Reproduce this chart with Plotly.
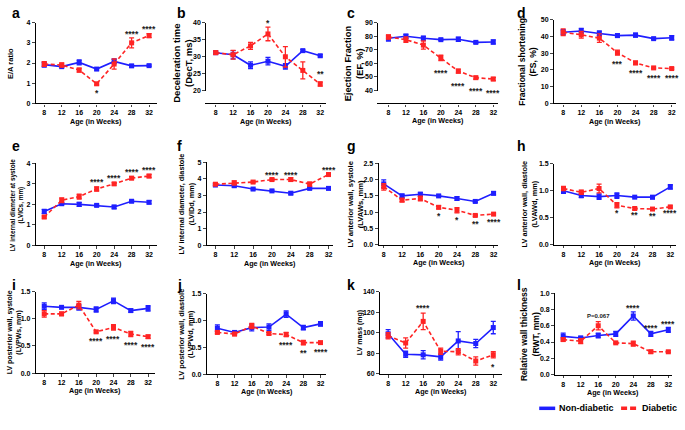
import plotly.graph_objects as go

W, H = 685, 430

# ---------------- data ----------------
weeks = [8, 12, 16, 20, 24, 28, 32]
week_labels = ["8", "12", "16", "20", "24", "28", "32"]

# a  E/A ratio
ea_nd = [1.92, 1.82, 2.03, 1.70, 2.08, 1.86, 1.87]
ea_nd_sem = [0.12, 0.05, 0.12, 0.05, 0.12, 0.06, 0.04]
ea_d = [1.95, 1.90, 1.65, 0.97, 1.95, 3.00, 3.36]
ea_d_sem = [0.12, 0.10, 0.10, 0.06, 0.25, 0.25, 0.10]
ea_sig = ["", "", "", "*", "", "****", "****"]
ea_sig_at = ["", "", "", "dn", "", "up", "up"]

# b  Deceleration time
dt_nd = [31.2, 30.6, 27.5, 28.7, 27.2, 31.8, 30.3]
dt_nd_sem = [0.4, 1.2, 1.0, 1.1, 0.8, 0.3, 0.3]
dt_d = [31.2, 30.6, 33.2, 36.7, 30.0, 26.0, 22.0]
dt_d_sem = [0.5, 1.3, 1.0, 2.0, 3.0, 2.5, 0.6]
dt_sig = ["", "", "", "*", "", "", "**"]
dt_sig_at = ["", "", "", "up", "", "", "dup"]

# c  Ejection fraction
ef_nd = [78.5, 80.0, 78.5, 77.5, 77.8, 75.5, 75.8]
ef_nd_sem = [2.0, 1.5, 1.5, 0.5, 1.5, 0.7, 1.5]
ef_d = [79.5, 77.5, 73.5, 64.0, 54.3, 49.5, 48.5]
ef_d_sem = [1.5, 2.0, 3.0, 2.0, 1.5, 1.0, 1.2]
ef_sig = ["", "", "", "****", "****", "****", "****"]
ef_sig_at = ["", "", "", "dn", "dn", "dn", "dn"]

# d  Fractional shortening
fs_nd = [42.5, 43.3, 41.8, 40.5, 40.8, 38.7, 39.2]
fs_nd_sem = [1.5, 1.5, 1.5, 1.0, 1.2, 0.5, 1.3]
fs_d = [42.5, 41.0, 39.0, 30.3, 24.2, 21.2, 20.8]
fs_d_sem = [2.0, 2.0, 2.5, 1.5, 1.0, 0.5, 0.5]
fs_sig = ["", "", "", "***", "****", "****", "****"]
fs_sig_at = ["", "", "", "dn", "dn", "dn", "dn"]

# e  LVIDs
lvids_nd = [1.65, 2.03, 2.00, 1.95, 1.87, 2.15, 2.10]
lvids_nd_sem = [0.10, 0.05, 0.10, 0.05, 0.08, 0.05, 0.08]
lvids_d = [1.38, 2.20, 2.38, 2.75, 3.00, 3.28, 3.38]
lvids_d_sem = [0.05, 0.12, 0.12, 0.10, 0.06, 0.07, 0.08]
lvids_sig = ["", "", "", "****", "****", "****", "****"]
lvids_sig_at = ["", "", "", "up", "up", "up", "up"]

# f  LVIDd
lvidd_nd = [3.62, 3.58, 3.38, 3.27, 3.13, 3.42, 3.42]
lvidd_nd_sem = [0.05, 0.08, 0.05, 0.05, 0.08, 0.06, 0.08]
lvidd_d = [3.67, 3.75, 3.80, 3.95, 3.95, 3.68, 4.25]
lvidd_d_sem = [0.07, 0.12, 0.05, 0.07, 0.10, 0.12, 0.10]
lvidd_sig = ["", "", "", "****", "****", "", "****"]
lvidd_sig_at = ["", "", "", "up", "up", "", "up"]

# g  LVAWs
lvaws_nd = [1.87, 1.50, 1.55, 1.50, 1.42, 1.33, 1.58]
lvaws_nd_sem = [0.12, 0.05, 0.06, 0.03, 0.05, 0.03, 0.05]
lvaws_d = [1.78, 1.37, 1.42, 1.15, 1.06, 0.90, 0.94]
lvaws_d_sem = [0.10, 0.05, 0.07, 0.05, 0.08, 0.03, 0.03]
lvaws_sig = ["", "", "", "*", "*", "**", "****"]
lvaws_sig_at = ["", "", "", "dn", "dn", "dn", "dn"]

# h  LVAWd
lvawd_nd = [1.00, 0.91, 0.89, 0.91, 0.88, 0.88, 1.07]
lvawd_nd_sem = [0.05, 0.04, 0.05, 0.05, 0.01, 0.03, 0.04]
lvawd_d = [1.04, 0.97, 1.04, 0.73, 0.67, 0.66, 0.70]
lvawd_d_sem = [0.04, 0.04, 0.08, 0.05, 0.02, 0.02, 0.02]
lvawd_sig = ["", "", "", "*", "**", "**", "****"]
lvawd_sig_at = ["", "", "", "dn", "dn", "dn", "dn"]

# i  LVPWs
lvpws_nd = [1.23, 1.21, 1.21, 1.17, 1.33, 1.15, 1.19]
lvpws_nd_sem = [0.06, 0.01, 0.05, 0.05, 0.05, 0.03, 0.05]
lvpws_d = [1.09, 1.09, 1.25, 0.76, 0.84, 0.72, 0.67]
lvpws_d_sem = [0.06, 0.03, 0.07, 0.02, 0.05, 0.05, 0.03]
lvpws_sig = ["", "", "", "****", "****", "****", "****"]
lvpws_sig_at = ["", "", "", "dn", "dn", "dn", "dn"]

# j  LVPWd
lvpwd_nd = [0.86, 0.78, 0.87, 0.88, 1.12, 0.87, 0.94]
lvpwd_nd_sem = [0.06, 0.03, 0.06, 0.06, 0.06, 0.04, 0.04]
lvpwd_d = [0.78, 0.75, 0.90, 0.76, 0.74, 0.59, 0.59]
lvpwd_d_sem = [0.02, 0.03, 0.05, 0.02, 0.04, 0.04, 0.02]
lvpwd_sig = ["", "", "", "", "****", "**", "****"]
lvpwd_sig_at = ["", "", "", "", "dn", "dn", "dn"]

# k  LV mass
mass_nd = [99.0, 79.0, 78.5, 76.5, 92.0, 89.5, 105.0]
mass_nd_sem = [4, 3, 4, 3, 9, 4, 6]
mass_d = [97.0, 90.0, 111.0, 82.0, 81.5, 72.5, 78.5]
mass_d_sem = [3, 5, 8, 3, 3, 4, 3]
mass_sig = ["", "", "****", "", "", "", "*"]
mass_sig_at = ["", "", "up", "", "", "", "dn"]

# l  RWT
rwt_nd = [0.47, 0.45, 0.48, 0.50, 0.72, 0.50, 0.55]
rwt_nd_sem = [0.04, 0.02, 0.03, 0.03, 0.05, 0.03, 0.03]
rwt_d = [0.43, 0.41, 0.60, 0.39, 0.38, 0.28, 0.28]
rwt_d_sem = [0.02, 0.03, 0.05, 0.01, 0.03, 0.02, 0.01]
rwt_sig = ["", "", "P=0.067", "", "****", "****", "****"]
rwt_sig_at = ["", "", "up", "", "up", "up", "up"]

series_names = ["Non-diabetic", "Diabetic"]
x_title = "Age (in Weeks)"

panels = [
    dict(letter="a", ytitle="E/A ratio", nd=ea_nd, nds=ea_nd_sem, d=ea_d, ds=ea_d_sem,
         sig=ea_sig, at=ea_sig_at, yt=[0, 1, 2, 3, 4], ytl=["0", "1", "2", "3", "4"]),
    dict(letter="b", ytitle="Deceleration time<br>(DecT, ms)", nd=dt_nd, nds=dt_nd_sem, d=dt_d, ds=dt_d_sem,
         sig=dt_sig, at=dt_sig_at, yt=[20, 25, 30, 35, 40], ytl=["20", "25", "30", "35", "40"],
         lyt=[0, 10], lytl=["0", "10"]),
    dict(letter="c", ytitle="Ejection Fraction<br>(EF, %)", nd=ef_nd, nds=ef_nd_sem, d=ef_d, ds=ef_d_sem,
         sig=ef_sig, at=ef_sig_at, yt=[40, 50, 60, 70, 80, 90], ytl=["40", "50", "60", "70", "80", "90"],
         lyt=[0, 10], lytl=["0", "10"]),
    dict(letter="d", ytitle="Fractional shortening<br>(FS, %)", nd=fs_nd, nds=fs_nd_sem, d=fs_d, ds=fs_d_sem,
         sig=fs_sig, at=fs_sig_at, yt=[0, 10, 20, 30, 40, 50], ytl=["0", "10", "20", "30", "40", "50"]),
    dict(letter="e", ytitle="LV internal diameter at systole<br>(LVICs, mm)", nd=lvids_nd, nds=lvids_nd_sem,
         d=lvids_d, ds=lvids_d_sem, sig=lvids_sig, at=lvids_sig_at, yt=[0, 1, 2, 3, 4], ytl=["0", "1", "2", "3", "4"]),
    dict(letter="f", ytitle="LV internal diameter, diastole<br>(LVIDd, mm)", nd=lvidd_nd, nds=lvidd_nd_sem,
         d=lvidd_d, ds=lvidd_d_sem, sig=lvidd_sig, at=lvidd_sig_at, yt=[0, 1, 2, 3, 4, 5],
         ytl=["0", "1", "2", "3", "4", "5"]),
    dict(letter="g", ytitle="LV anterior wall, systole<br>(LVAWs, mm)", nd=lvaws_nd, nds=lvaws_nd_sem,
         d=lvaws_d, ds=lvaws_d_sem, sig=lvaws_sig, at=lvaws_sig_at, yt=[0, 0.5, 1.0, 1.5, 2.0, 2.5],
         ytl=["0.0", "0.5", "1.0", "1.5", "2.0", "2.5"]),
    dict(letter="h", ytitle="LV anterior wall, diastole<br>(LVAWd, mm)", nd=lvawd_nd, nds=lvawd_nd_sem,
         d=lvawd_d, ds=lvawd_d_sem, sig=lvawd_sig, at=lvawd_sig_at, yt=[0, 0.5, 1.0, 1.5],
         ytl=["0.0", "0.5", "1.0", "1.5"]),
    dict(letter="i", ytitle="LV posterior wall, systole<br>(LVPWs, mm)", nd=lvpws_nd, nds=lvpws_nd_sem,
         d=lvpws_d, ds=lvpws_d_sem, sig=lvpws_sig, at=lvpws_sig_at, yt=[0, 0.5, 1.0, 1.5],
         ytl=["0.0", "0.5", "1.0", "1.5"]),
    dict(letter="j", ytitle="LV posterior wall, diastole<br>(LVPWd, mm)", nd=lvpwd_nd, nds=lvpwd_nd_sem,
         d=lvpwd_d, ds=lvpwd_d_sem, sig=lvpwd_sig, at=lvpwd_sig_at, yt=[0, 0.5, 1.0, 1.5],
         ytl=["0.0", "0.5", "1.0", "1.5"]),
    dict(letter="k", ytitle="LV mass (mg)", nd=mass_nd, nds=mass_nd_sem, d=mass_d, ds=mass_d_sem,
         sig=mass_sig, at=mass_sig_at, yt=[60, 80, 100, 120, 140], ytl=["60", "80", "100", "120", "140"]),
    dict(letter="l", ytitle="Relative wall thickness<br>(RWT, mm)", nd=rwt_nd, nds=rwt_nd_sem, d=rwt_d, ds=rwt_d_sem,
         sig=rwt_sig, at=rwt_sig_at, yt=[0, 0.2, 0.4, 0.6, 0.8, 1.0],
         ytl=["0.0", "0.2", "0.4", "0.6", "0.8", "1.0"]),
]

# ---------------- geometry / style (pixels) ----------------
R3 = -10  # vertical shift of the third row
geo = [
    dict(L=36, R=157, x8=44.3, x32=149.3, T=19, B=101, tx=10, tfs=7.5, off=6, lx=10, ly=9),
    dict(L=206.7, R=326, x8=216, x32=320.7, T=19, B=88.3, LT=94.7, LB=101, tx=182, tfs=9.5, off=6.5, lx=175, ly=9),
    dict(L=379, R=499, x8=389, x32=494, T=19, B=88, LT=94.7, LB=100.7, tx=354, tfs=9.3, off=10.5, lx=346, ly=9),
    dict(L=555, R=677, x8=564, x32=672.7, T=16, B=101, tx=528, tfs=8.6, off=7, lx=516, ly=9),
    dict(L=36, R=157, x8=44.3, x32=149.3, T=162, B=245.3, tx=17, tfs=6.4, off=6.5, lx=10, ly=144),
    dict(L=207.3, R=333, x8=215.7, x32=329, T=160.7, B=245.3, tx=186, tfs=7.3, off=5.2, lx=175, ly=144),
    dict(L=379.3, R=499, x8=384.3, x32=494.3, T=162, B=244.7, tx=356, tfs=7.6, off=5.3, lx=346, ly=144),
    dict(L=555, R=677, x8=564.3, x32=671.3, T=162.3, B=244.7, tx=530, tfs=7.4, off=3.5, lx=516, ly=144),
    dict(L=36, R=155, x8=44.3, x32=148.3, T=302.3 + R3, B=385.3 + R3, tx=14, tfs=7.0, off=6.6, lx=10, ly=286),
    dict(L=207.3, R=326.7, x8=217.7, x32=321, T=304.7 + R3, B=386.3 + R3, tx=186, tfs=7.4, off=6, lx=175, ly=286),
    dict(L=380.7, R=502.7, x8=388.7, x32=494, T=302.3 + R3, B=386 + R3, tx=360, tfs=7.0, off=6.7, lx=346, ly=286),
    dict(L=556, R=672.7, x8=564, x32=669.3, T=304 + R3, B=386.7 + R3, tx=531, tfs=8.6, off=5.5, lx=516, ly=286),
]

BLUE = "#1f1fff"
RED = "#ff2424"
FONT = "Liberation Sans"
TICKF = dict(family=FONT, size=7, color="black", weight="bold")


def px(xp):
    return xp / W


def py(yp):
    return 1 - yp / H


fig = go.Figure()
layout = {}
annotations = []
shapes = []
extra_y = 13

for i, (p, g) in enumerate(zip(panels, geo)):
    n = i + 1
    xname, yname = f"x{n}", f"y{n}"
    ppw = (g["x32"] - g["x8"]) / 24.0
    r0 = 8 - (g["x8"] - g["L"]) / ppw
    r1 = 32 + (g["R"] - g["x32"]) / ppw
    broken = "LT" in g
    if broken:
        lname = f"y{extra_y}"
        extra_y += 1
    x_anchor = lname if broken else yname

    layout[f"xaxis{n}"] = dict(
        domain=[px(g["L"]), px(g["R"])], range=[r0, r1], anchor=x_anchor,
        tickvals=weeks, ticktext=week_labels, ticks="outside", ticklen=2.5, tickwidth=1.2,
        showline=True, linecolor="black", linewidth=1.3, showgrid=False, zeroline=False,
        tickfont=TICKF, fixedrange=True,
    )
    ymin, ymax = p["yt"][0], p["yt"][-1]
    layout[f"yaxis{n}"] = dict(
        domain=[py(g["B"]), py(g["T"])], range=[ymin, ymax], anchor=xname,
        tickvals=p["yt"], ticktext=p["ytl"], ticks="outside", ticklen=3, tickwidth=1.2,
        showline=True, linecolor="black", linewidth=1.3, showgrid=False, zeroline=False,
        tickfont=TICKF, fixedrange=True,
    )
    if broken:
        layout[lname.replace("y", "yaxis")] = dict(
            domain=[py(g["LB"]), py(g["LT"])], range=[p["lyt"][0], p["lyt"][-1]], anchor=xname,
            tickvals=p["lyt"], ticktext=p["lytl"], ticks="outside", ticklen=3, tickwidth=1.2,
            showline=True, linecolor="black", linewidth=1.3, showgrid=False, zeroline=False,
            tickfont=dict(family=FONT, size=5.5, color="black", weight="bold"), fixedrange=True,
        )

    for vals, sems, col, dash, name in [
        (p["nd"], p["nds"], BLUE, "solid", series_names[0]),
        (p["d"], p["ds"], RED, "4px,2.5px", series_names[1]),
    ]:
        fig.add_trace(go.Scatter(
            x=weeks, y=vals, mode="lines+markers", name=name, showlegend=False,
            line=dict(color=col, width=1.6, dash=dash),
            marker=dict(symbol="square", size=5, color=col, line=dict(width=0)),
            error_y=dict(type="data", array=sems, visible=True, color=col, thickness=1.3, width=2.5),
            xaxis=xname, yaxis=yname, cliponaxis=False,
        ))

    for k, (txt, at) in enumerate(zip(p["sig"], p["at"])):
        if not txt:
            continue
        corr = 1.9 if txt.startswith("*") else 0.0
        if at == "up":
            yv = max(p["nd"][k] + p["nds"][k], p["d"][k] + p["ds"][k])
            ys = g["off"] - corr
        elif at == "dup":
            yv = p["d"][k] + p["ds"][k]
            ys = g["off"] + 3 - corr
        else:
            yv = p["d"][k] - p["ds"][k]
            ys = -(g["off"] + corr)
        annotations.append(dict(
            x=weeks[k], y=yv, xref=xname, yref=yname, text=txt, showarrow=False,
            yshift=ys, xanchor="center", yanchor="middle",
            font=dict(family=FONT, size=6 if not txt.startswith("*") else 8.5, color="#222222", weight="bold"),
        ))

    yc = (g["T"] + (g["LB"] if broken else g["B"])) / 2
    annotations.append(dict(
        x=px(g["tx"]), y=py(yc), xref="paper", yref="paper", text=p["ytitle"], textangle=-90,
        showarrow=False, xanchor="center", yanchor="middle",
        font=dict(family=FONT, size=g["tfs"], color="black", weight="bold"),
    ))
    xb = g["LB"] if broken else g["B"]
    annotations.append(dict(
        x=px((g["L"] + g["R"]) / 2), y=py(xb + 18), xref="paper", yref="paper", text=x_title,
        showarrow=False, xanchor="center", yanchor="middle",
        font=dict(family=FONT, size=7.2, color="black", weight="bold"),
    ))
    annotations.append(dict(
        x=px(g["lx"]), y=py(g["ly"]), xref="paper", yref="paper", text=p["letter"],
        showarrow=False, xanchor="left", yanchor="middle",
        font=dict(family=FONT, size=14, color="black", weight="bold"),
    ))

# legend (drawn manually)
LEG_Y = 411
shapes.append(dict(type="line", xref="paper", yref="paper", x0=px(540), x1=px(556), y0=py(LEG_Y), y1=py(LEG_Y),
                   line=dict(color=BLUE, width=3.5)))
shapes.append(dict(type="line", xref="paper", yref="paper", x0=px(622), x1=px(638), y0=py(LEG_Y), y1=py(LEG_Y),
                   line=dict(color=RED, width=3.5, dash="6px,3px")))
annotations.append(dict(x=px(558), y=py(LEG_Y), xref="paper", yref="paper", text=series_names[0], showarrow=False,
                        xanchor="left", yanchor="middle",
                        font=dict(family=FONT, size=9, color="black", weight="bold")))
annotations.append(dict(x=px(641), y=py(LEG_Y), xref="paper", yref="paper", text=series_names[1], showarrow=False,
                        xanchor="left", yanchor="middle",
                        font=dict(family=FONT, size=9, color="black", weight="bold")))

fig.update_layout(
    width=W, height=H, margin=dict(l=0, r=0, t=0, b=0),
    paper_bgcolor="white", plot_bgcolor="white", showlegend=False,
    font=dict(family=FONT, color="black"),
    annotations=annotations, shapes=shapes, **layout,
)

fig.write_html(
    "out.html",
    config={"displayModeBar": False},
    post_script="document.body.style.margin='0';document.body.style.padding='0';",
)
